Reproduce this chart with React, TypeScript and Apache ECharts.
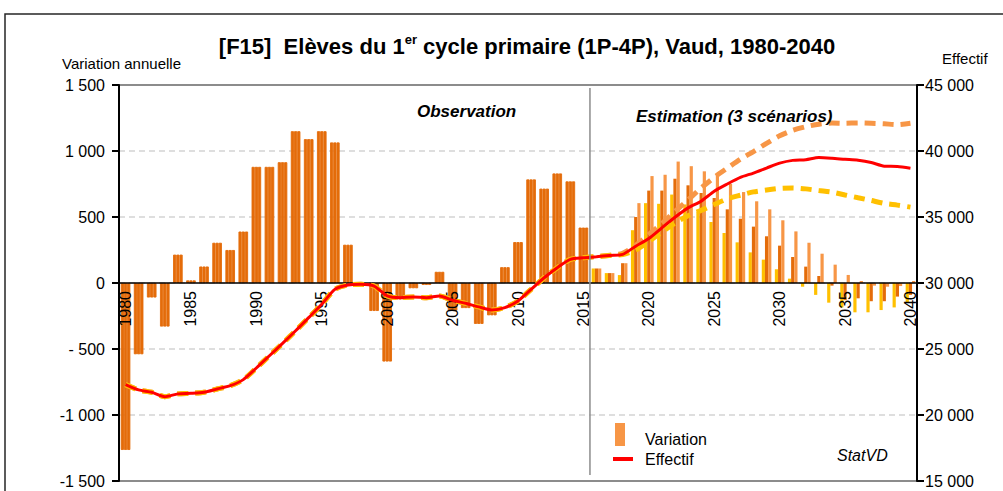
import React, { useEffect, useRef } from 'react';
import * as echarts from 'echarts';

// Categories: school years 1980 to 2040
const years: string[] = Array.from({ length: 61 }, (_, i) => String(1980 + i));

// Observed annual variation (1980-2015)
const observedVariation = [
  -1265, -540, -110, -330, 215, 20, 125, 305, 250, 390,
  880, 880, 915, 1150, 1090, 1150, 1065, 290, -10, -212,
  -595, -125, -40, -15, 85, -210, -190, -310, -245, 120,
  310, 785, 715, 830, 770, 420,
];
// Observed headcount (1980-2015)
const observedEffectif = [
  22300, 21900, 21720, 21390, 21600, 21640, 21720, 21970, 22220, 22680,
  23560, 24490, 25420, 26380, 27380, 28390, 29520, 29850, 29900, 29770,
  29020, 28890, 28940, 28890, 29020, 28690, 28460, 28190, 27960, 28140,
  28640, 29520, 30400, 31160, 31790, 31910,
];

// Scenario variations (2016-2040)
const lowVariation = [110, 75, 60, 400, 605, 600, 670, 595, 540, 462, 379, 308, 232, 177, 104, 33, -28, -90, -149, -185, -222, -222, -205, -185, -150];
const midVariation = [110, 75, 150, 500, 700, 700, 790, 740, 682, 644, 558, 487, 427, 354, 283, 197, 124, 53, -20, -130, -116, -138, -138, -103, -90];
const highVariation = [110, 75, 150, 605, 810, 820, 920, 885, 846, 826, 750, 689, 619, 558, 475, 391, 305, 222, 139, 61, 15, -20, -28, -23, 15];

// Scenario headcounts (2016-2040)
const midEffectif = [31990, 32090, 32170, 32790, 33370, 34180, 34980, 35690, 36200, 36950, 37500, 38000, 38330, 38710, 39080, 39290, 39340, 39500, 39450, 39370, 39300, 39130, 38850, 38830, 38700];
const highEffectif = [32000, 32100, 32250, 32850, 33680, 34500, 35420, 36300, 37200, 38000, 38700, 39380, 39960, 40580, 41150, 41570, 41840, 42030, 42120, 42100, 42130, 42100, 42060, 42000, 42100];
const lowEffectif = [32000, 32080, 32150, 32500, 33150, 33850, 34550, 35100, 35500, 35950, 36380, 36650, 36900, 37050, 37170, 37200, 37130, 37000, 36880, 36670, 36460, 36250, 36030, 35900, 35750];

const DARK = '#E46C0A';
const LIGHT = '#F79646';
const YELLOW = '#FFC000';
const RED = '#FF0000';
const FONT = '"Liberation Sans", Arial, sans-serif';

const GRID_TOP = 85;
const GRID_HEIGHT = 396;

function thousands(a: number): string {
  if (a >= 1000) return `${Math.floor(a / 1000)} ${String(a % 1000).padStart(3, '0')}`;
  return String(a);
}
function leftLabel(v: number): string {
  if (v === 0) return '0';
  const a = Math.abs(v);
  const s = thousands(a);
  if (v < 0) return a < 1000 ? '- ' + s : '-' + s;
  return s;
}
function rightLabel(v: number): string {
  return thousands(v);
}

export default function App() {
  const ref = useRef<HTMLDivElement>(null);
  useEffect(() => {
    document.body.style.margin = '0';
    document.body.style.overflow = 'hidden';
    const chart = echarts.init(ref.current!, null, { renderer: 'svg' });
    const obsBars = observedVariation.map((v) => ({
      value: v,
      itemStyle: { color: DARK, borderColor: DARK, borderWidth: 0.9 },
    }));
    const barSeries = (name: string, color: string, scen: number[]) => ({
      type: 'bar',
      name,
      yAxisIndex: 0,
      data: [...obsBars, ...scen],
      itemStyle: { color },
      barWidth: 3.2,
      barGap: '0%',
    });
    const lineSeries = (name: string, color: string, scen: number[], width: number, dashed: boolean) => ({
      type: 'line',
      name,
      yAxisIndex: 1,
      data: [...observedEffectif, ...scen],
      symbol: 'none',
      smooth: 0.25,
      z: 3,
      lineStyle: { color, width, type: dashed ? [11, 7] : 'solid' },
      itemStyle: { color },
    });
    const axisBlack = { show: true, lineStyle: { color: '#000', width: 2 } };
    const option: any = {
      animation: false,
      textStyle: { fontFamily: FONT },
      grid: {
        left: 119, right: 86, top: GRID_TOP, height: GRID_HEIGHT,
        outerBoundsMode: 'none',
        containLabel: false,
        show: true, borderColor: '#8C8C8C', borderWidth: 2, backgroundColor: 'transparent',
      },
      xAxis: {
        type: 'category',
        data: years,
        position: 'bottom',
        offset: -GRID_HEIGHT / 2,
        z: 2.5,
        axisLine: { onZero: false, lineStyle: { color: '#000', width: 1.5 } },
        axisTick: { show: false },
        axisLabel: {
          rotate: 90,
          interval: (i: number) => i % 5 === 0,
          fontSize: 16,
          color: '#000',
          margin: 8,
          fontFamily: FONT,
        },
        splitLine: { show: false },
      },
      yAxis: [
        {
          type: 'value', min: -1500, max: 1500, interval: 500,
          axisLine: axisBlack,
          axisTick: { show: true, length: 7, lineStyle: { color: '#000', width: 2 } },
          axisLabel: { formatter: leftLabel, fontSize: 16, color: '#000', margin: 14, fontFamily: FONT },
          splitLine: { show: true, showMinLine: false, showMaxLine: false, lineStyle: { color: '#D4D4D4', type: [6, 4], width: 1.5 } },
        },
        {
          type: 'value', min: 15000, max: 45000, interval: 5000, position: 'right',
          axisLine: axisBlack,
          axisTick: { show: true, length: 7, lineStyle: { color: '#000', width: 2 } },
          axisLabel: { formatter: rightLabel, fontSize: 16, color: '#000', margin: 8, fontFamily: FONT },
          splitLine: { show: false },
        },
      ],
      series: [
        barSeries('Variation (bas)', YELLOW, lowVariation),
        barSeries('Variation (moyen)', DARK, midVariation),
        barSeries('Variation (haut)', LIGHT, highVariation),
        lineSeries('Effectif (haut)', LIGHT, highEffectif, 5, true),
        lineSeries('Effectif (bas)', YELLOW, lowEffectif, 5, true),
        lineSeries('Effectif', RED, midEffectif, 3, false),
      ],
    };
    chart.setOption(option);

    const x15 = chart.convertToPixel({ xAxisIndex: 0 }, '2015') as number;
    const x16 = chart.convertToPixel({ xAxisIndex: 0 }, '2016') as number;
    const sepX = (x15 + x16) / 2;

    const txt = (text: string, x: number, y: number, size: number, extra: any = {}) => ({
      type: 'text', x, y, z: 10,
      style: { text, fontSize: size, fontFamily: FONT, fill: '#000', align: 'left', verticalAlign: 'middle', ...extra },
    });

    chart.setOption({
      graphic: [
        { type: 'rect', shape: { x: 5, y: 14, width: 1010, height: 500 }, style: { fill: 'none', stroke: '#262626', lineWidth: 1.5 }, z: 10 },
        {
          type: 'text', x: 527, y: 46, z: 10,
          style: {
            text: '{b|[F15]  Elèves du 1}{s|er}{b| cycle primaire (1P-4P), Vaud, 1980-2040}',
            align: 'center', verticalAlign: 'middle',
            rich: {
              b: { fontSize: 22, fontWeight: 'bold', fontFamily: FONT, fill: '#000', lineHeight: 26 },
              s: { fontSize: 13, fontWeight: 'bold', fontFamily: FONT, fill: '#000', verticalAlign: 'top', lineHeight: 14 },
            },
          },
        },
        txt('Variation annuelle', 62, 63, 15),
        txt('Effectif', 942, 58, 15),
        txt('Observation', 417, 111, 17, { fontWeight: 'bold', fontStyle: 'italic' }),
        txt('Estimation (3 scénarios)', 636, 116, 17, { fontWeight: 'bold', fontStyle: 'italic' }),
        { type: 'line', shape: { x1: sepX, y1: 88, x2: sepX, y2: 475 }, style: { stroke: '#8C8C8C', lineWidth: 1.5 }, z: 10 },
        { type: 'rect', shape: { x: 615, y: 423, width: 10, height: 23 }, style: { fill: LIGHT }, z: 10 },
        txt('Variation', 645, 439, 16),
        { type: 'line', shape: { x1: 613, y1: 459, x2: 633, y2: 459 }, style: { stroke: RED, lineWidth: 4 }, z: 10 },
        txt('Effectif', 645, 459, 16),
        txt('StatVD', 837, 455, 16, { fontStyle: 'italic' }),
      ],
    });

    return () => {
      chart.dispose();
    };
  }, []);
  return <div ref={ref} style={{ width: 1003, height: 491 }} />;
}
